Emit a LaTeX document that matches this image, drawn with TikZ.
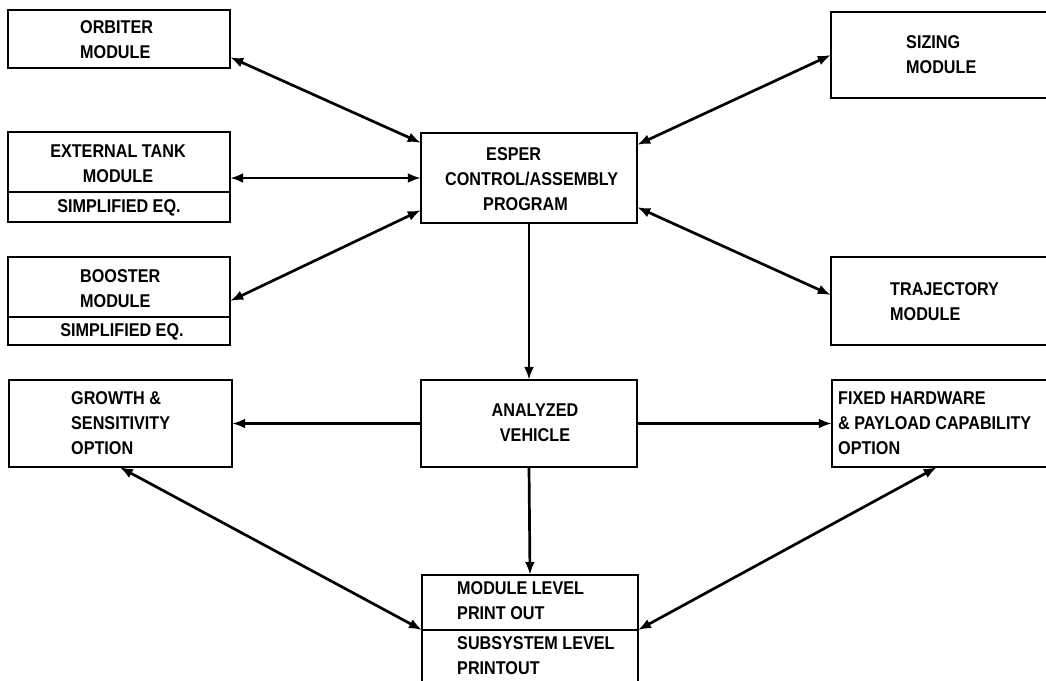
\documentclass[tikz,border=0pt]{standalone}
\usepackage{fontspec}
\setmainfont{Liberation Sans}[FakeStretch=0.875]
\usetikzlibrary{arrows.meta,calc}
\begin{document}
\begin{tikzpicture}[x=1pt,y=-1pt,
  box/.style={draw,line width=1.7pt},
  lbl/.style={inner sep=0pt,font=\fontsize{18.5}{25}\selectfont\bfseries},
  link/.style={line width=2.7pt,-{Latex[length=13pt,width=10pt]}},
  blink/.style={line width=2.7pt,{Latex[length=13pt,width=10pt]}-{Latex[length=13pt,width=10pt]}}]
\useasboundingbox (0,0) rectangle (1046,680);
% boxes
\draw[box] (8,10) rectangle (230,68);
\node[inner sep=0pt,minimum width=222pt,minimum height=58pt] (orbiter) at (119,39) {};
\draw[box] (8,132) rectangle (230,222);
\node[inner sep=0pt,minimum width=222pt,minimum height=90pt] (ext) at (119,177) {};
\draw[box] (ext.west |- 0,192) -- (ext.east |- 0,192);
\draw[box] (8,257) rectangle (230,345);
\node[inner sep=0pt,minimum width=222pt,minimum height=88pt] (booster) at (119,301) {};
\draw[box] (booster.west |- 0,317) -- (booster.east |- 0,317);
\draw[box] (9,380) rectangle (232,467);
\node[inner sep=0pt,minimum width=223pt,minimum height=87pt] (growth) at (120.5,423.5) {};
\draw[box] (421,133) rectangle (637,223);
\node[inner sep=0pt,minimum width=216pt,minimum height=90pt] (esper) at (529,178) {};
\draw[box] (421,380) rectangle (637,467);
\node[inner sep=0pt,minimum width=216pt,minimum height=87pt] (analyzed) at (529,423.5) {};
\draw[box] (831,12) rectangle (1052,98);
\node[inner sep=0pt,minimum width=221pt,minimum height=86pt] (sizing) at (941.5,55) {};
\draw[box] (831,257) rectangle (1052,345);
\node[inner sep=0pt,minimum width=221pt,minimum height=88pt] (trajectory) at (941.5,301) {};
\draw[box] (832,380) rectangle (1052,467);
\node[inner sep=0pt,minimum width=220pt,minimum height=87pt] (fixed) at (942,423.5) {};
\draw[box] (422,575) rectangle (638,690);
\node[inner sep=0pt,minimum width=216pt,minimum height=115pt] (print) at (530,632.5) {};
\coordinate (pl) at (422,630);
\coordinate (pr) at (638,630);
\draw[box] (pl) -- (pr);
% texts
\node[lbl,anchor=west,align=left] (t1) at (80,39.5) {ORBITER\\MODULE};
\node[lbl,align=center] (t2) at (118,164) {EXTERNAL TANK\\MODULE};
\node[lbl] (t3) at (119,207.5) {SIMPLIFIED EQ.};
\node[lbl,anchor=west,align=left] (t4) at (80,289) {BOOSTER\\MODULE};
\node[lbl] (t5) at (122,331.5) {SIMPLIFIED EQ.};
\node[lbl,anchor=west,align=left] (t6) at (71,423) {GROWTH \&\\SENSITIVITY\\OPTION};
\node[lbl,anchor=west,align=left] (t7) at (445,179) {\hspace*{41pt}ESPER\\CONTROL/ASSEMBLY\\\hspace*{38pt}PROGRAM};
\node[lbl,align=center] (t8) at (535,423) {ANALYZED\\VEHICLE};
\node[lbl,anchor=west,align=left] (t9) at (906,55) {SIZING\\MODULE};
\node[lbl,anchor=west,align=left] (t10) at (890,301.5) {TRAJECTORY\\MODULE};
\node[lbl,anchor=west,align=left] (t11) at (838,423) {FIXED HARDWARE\\\& PAYLOAD CAPABILITY\\OPTION};
\node[lbl,anchor=west,align=left] (t12) at (457,600.5) {MODULE LEVEL\\PRINT OUT};
\node[lbl,anchor=west,align=left] (t13) at (457,655.5) {SUBSYSTEM LEVEL\\PRINTOUT};
% connectors
\draw[blink] ([yshift=11pt]orbiter.south east) -- ([yshift=-10pt]esper.north west);
\draw[blink] (esper.west -| ext.east) -- (esper.west);
\draw[blink] (booster.east) -- ([yshift=13pt]esper.south west);
\draw[blink] (sizing.west) -- ([yshift=-12pt]esper.north east);
\draw[blink] ([yshift=16pt]esper.south east) -- ([yshift=6pt]trajectory.west);
\draw[link] (esper.south) -- (analyzed.north);
\draw[link] (analyzed.west) -- (growth.east);
\draw[link] (analyzed.east) -- (fixed.west);
\draw[link] (analyzed.south) -- (print.north);
\draw[blink] ([xshift=111pt]growth.south west) -- (pl);
\draw[blink] ([xshift=105pt]fixed.south west) -- (pr);
\end{tikzpicture}
\end{document}
